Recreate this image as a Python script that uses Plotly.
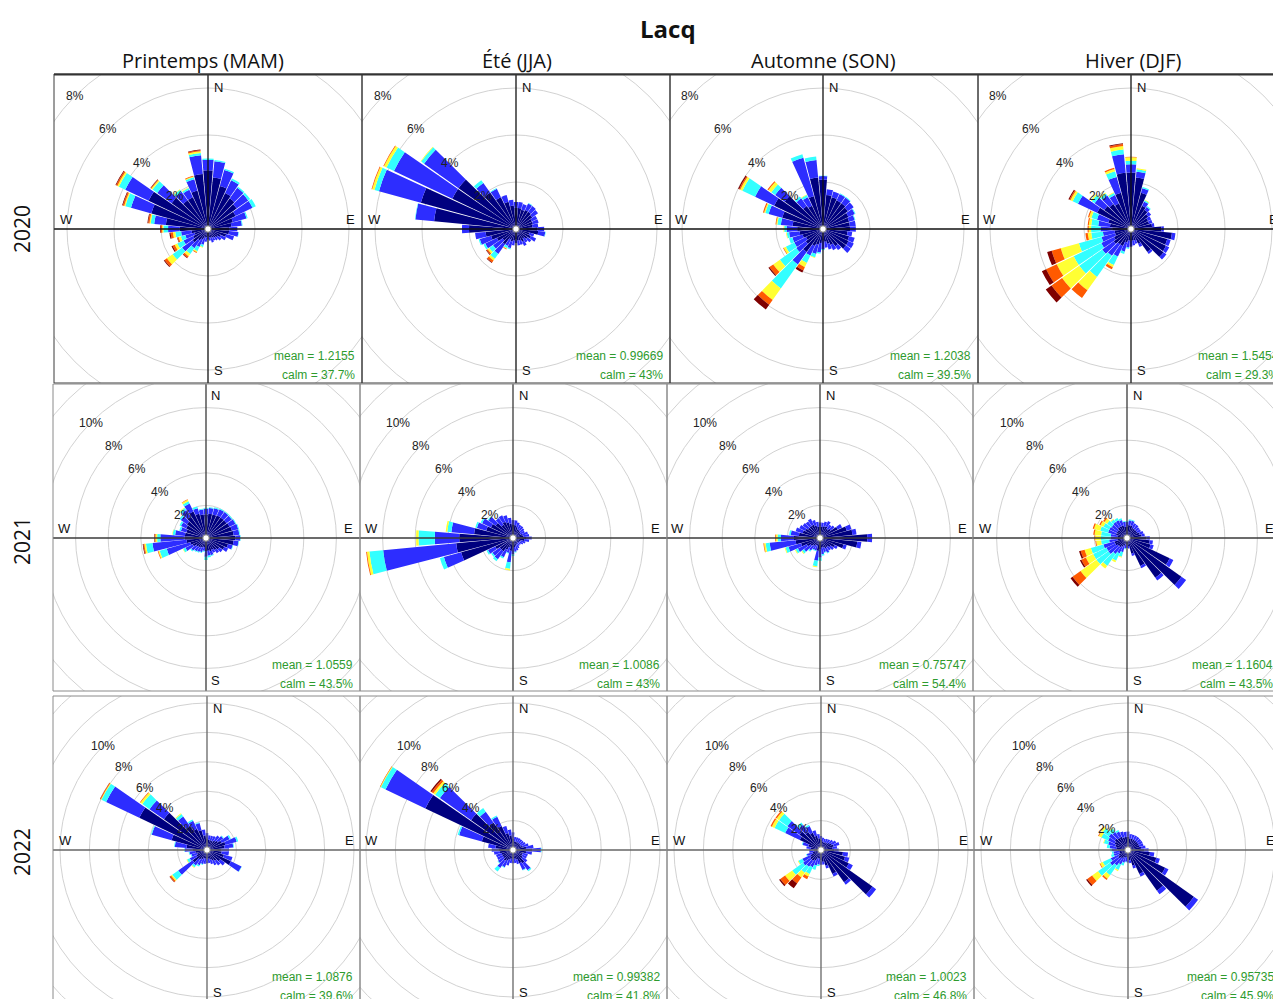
import plotly.graph_objects as go

# ---------------------------------------------------------------------------
# Data: wind roses for Lacq, frequency (%) per 10-degree sector, stacked by
# wind-speed class (innermost class first).
# ---------------------------------------------------------------------------
DIRECTIONS = list(range(10, 361, 10))
SPEED_CLASSES = ["classe 1", "classe 2", "classe 3", "classe 4", "classe 5", "classe 6"]
SPEED_COLOURS = ["#00007F", "#2D2DFF", "#33FFFF", "#FFFF33", "#FF5A00", "#7F0000"]

SEASONS = ["Printemps (MAM)", "Été (JJA)", "Automne (SON)", "Hiver (DJF)"]
YEARS = ["2020", "2021", "2022"]

MEAN_SPEED = [
    ["1.2155", "0.99669", "1.2038", "1.5454"],
    ["1.0559", "1.0086", "0.75747", "1.1604"],
    ["1.0876", "0.99382", "1.0023", "0.95735"],
]
CALM_PCT = [
    ["37.7", "43", "39.5", "29.3"],
    ["43.5", "43", "54.4", "43.5"],
    ["39.6", "41.8", "46.8", "45.9"],
]

rose_2020_mam = [
    [2.2, 0.7, 0.05], [1.9, 0.7, 0.06], [1.7, 0.6, 0.08], [1.6, 0.55, 0.06],
    [1.5, 0.6, 0.1], [1.3, 0.8, 0.15], [1.1, 0.6, 0.05], [1.0, 0.45, 0.03],
    [0.9, 0.35], [0.9, 0.4, 0.02], [0.8, 0.35], [0.6, 0.25],
    [0.5, 0.2], [0.45, 0.15], [0.4, 0.15], [0.4, 0.2],
    [0.35, 0.15], [0.3, 0.15], [0.35, 0.2], [0.4, 0.3, 0.1, 0.03],
    [0.5, 0.35, 0.2, 0.05, 0.03], [0.6, 0.4, 0.3, 0.12, 0.08, 0.03],
    [0.8, 0.55, 0.5, 0.3, 0.12, 0.04], [0.7, 0.45, 0.3, 0.12, 0.1, 0.05],
    [0.6, 0.4, 0.2, 0.1, 0.05, 0.02], [0.7, 0.45, 0.25, 0.1, 0.1, 0.05],
    [1.2, 0.5, 0.2, 0.05, 0.06, 0.03], [1.8, 0.5, 0.15, 0.05, 0.06, 0.03],
    [2.5, 0.9, 0.25, 0.05, 0.06, 0.03], [2.8, 1.1, 0.3, 0.07, 0.06, 0.03],
    [1.9, 0.75, 0.25, 0.06, 0.03, 0.02], [1.5, 0.45, 0.1, 0.03],
    [1.5, 0.35, 0.08, 0.03], [1.7, 0.5, 0.08, 0.04, 0.03],
    [2.35, 0.8, 0.1, 0.07, 0.05, 0.03], [2.5, 0.45, 0.05],
]
rose_2020_jja = [
    [0.9, 0.25], [0.85, 0.25], [0.9, 0.3, 0.03], [0.9, 0.3],
    [0.85, 0.3], [0.75, 0.25], [0.75, 0.25], [0.7, 0.25],
    [0.9, 0.3], [0.95, 0.3, 0.02], [0.6, 0.2], [0.7, 0.25],
    [0.6, 0.2], [0.5, 0.2], [0.6, 0.2], [0.5, 0.2],
    [0.5, 0.2], [0.45, 0.15], [0.5, 0.2], [0.55, 0.3, 0.05],
    [0.5, 0.3, 0.1, 0.03, 0.03], [0.8, 0.5, 0.25, 0.1, 0.1, 0.03],
    [0.7, 0.5, 0.2, 0.08, 0.06, 0.03], [0.9, 0.55, 0.08],
    [1.1, 0.5, 0.05], [1.3, 0.45], [2.0, 0.3], [3.5, 0.8, 0.02],
    [4.2, 1.85, 0.2, 0.1, 0.03], [3.0, 2.75, 0.35, 0.12, 0.03],
    [3.0, 1.8, 0.15, 0.03], [1.9, 0.5, 0.15],
    [1.5, 0.4, 0.03], [1.2, 0.3], [1.0, 0.25], [0.9, 0.25],
]
rose_2020_son = [
    [1.45, 0.25], [1.4, 0.25], [1.35, 0.3, 0.03], [1.35, 0.3, 0.03],
    [1.3, 0.3], [1.2, 0.3, 0.03], [1.15, 0.25, 0.03], [1.15, 0.25],
    [1.15, 0.25], [1.05, 0.2], [1.15, 0.25], [1.2, 0.25],
    [1.2, 0.25], [0.9, 0.2], [0.75, 0.25], [0.65, 0.25],
    [0.55, 0.25], [0.5, 0.35, 0.05], [0.6, 0.4, 0.05], [0.7, 0.4, 0.15, 0.03],
    [0.8, 0.45, 0.35, 0.2, 0.15, 0.1], [1.2, 0.65, 1.25, 0.6, 0.25, 0.25],
    [0.9, 0.5, 0.85, 0.35, 0.2, 0.05], [0.8, 0.55, 0.4, 0.1, 0.03],
    [0.9, 0.45, 0.15], [1.0, 0.45, 0.1, 0.03], [1.1, 0.45, 0.1, 0.03],
    [1.3, 0.5, 0.15, 0.05, 0.03], [1.8, 0.6, 0.15, 0.05, 0.05],
    [2.3, 0.9, 0.6, 0.1, 0.05, 0.05], [2.0, 0.5, 0.2, 0.15, 0.05],
    [1.2, 0.4, 0.1], [1.1, 0.4, 0.1, 0.03], [1.45, 1.7, 0.15],
    [2.2, 0.75, 0.15], [2.1, 0.15, 0.02],
]
rose_2020_djf = [
    [2.2, 0.25, 0.1, 0.05], [1.6, 0.2, 0.05], [1.1, 0.2, 0.05, 0.03], [1.0, 0.15, 0.05],
    [0.9, 0.15], [0.8, 0.15], [0.8, 0.15], [0.9, 0.1],
    [1.3, 0.1], [1.75, 0.15], [1.6, 0.15], [1.65, 0.15],
    [1.7, 0.15], [1.2, 0.1], [0.7, 0.15], [0.5, 0.15],
    [0.5, 0.2], [0.5, 0.25], [0.5, 0.3, 0.05], [0.6, 0.4, 0.1],
    [0.8, 0.5, 0.4, 0.1, 0.1], [0.8, 0.6, 1.1, 0.7, 0.4],
    [0.9, 0.6, 1.2, 0.9, 0.55, 0.3], [0.8, 0.6, 1.3, 0.8, 0.5, 0.2],
    [0.7, 0.6, 1.0, 0.8, 0.4, 0.2], [0.7, 0.5, 0.5, 0.15, 0.1],
    [0.8, 0.5, 0.4, 0.1, 0.05], [0.9, 0.5, 0.3, 0.1, 0.05],
    [1.0, 0.5, 0.25, 0.1, 0.05], [1.6, 0.9, 0.25, 0.1, 0.05, 0.05],
    [1.4, 0.5, 0.15, 0.05], [1.3, 0.45, 0.1, 0.05],
    [1.2, 0.4, 0.1, 0.03], [1.6, 0.7, 0.25, 0.1, 0.05],
    [2.4, 0.8, 0.2, 0.15, 0.08, 0.04], [2.4, 0.35, 0.15, 0.15, 0.02],
]
rose_2021_mam = [
    [1.5, 0.35, 0.05], [1.5, 0.4, 0.05], [1.55, 0.4, 0.05], [1.55, 0.4, 0.05],
    [1.55, 0.4, 0.05], [1.6, 0.4, 0.05], [1.65, 0.4, 0.05], [1.7, 0.35, 0.05],
    [1.8, 0.3, 0.03], [1.7, 0.3, 0.03], [1.4, 0.3, 0.03], [1.25, 0.25],
    [1.0, 0.25], [0.9, 0.25], [0.8, 0.2], [0.85, 0.25, 0.05],
    [0.8, 0.3, 0.1], [0.8, 0.35, 0.2], [0.55, 0.25, 0.05], [0.6, 0.3, 0.05],
    [0.65, 0.3, 0.05], [0.7, 0.3, 0.05], [0.75, 0.35, 0.08], [0.9, 0.5, 0.15, 0.03],
    [1.0, 1.5, 0.45, 0.08, 0.04], [1.2, 2.1, 0.4, 0.1, 0.06, 0.04],
    [1.3, 1.5, 0.2, 0.1, 0.05, 0.03], [1.3, 0.6, 0.15, 0.03],
    [1.25, 0.35, 0.1], [1.35, 0.35, 0.1], [1.45, 0.45, 0.1], [1.6, 0.5, 0.15, 0.05],
    [1.8, 0.55, 0.15, 0.1, 0.03], [1.55, 0.35, 0.1], [1.45, 0.3, 0.05], [1.45, 0.35, 0.05],
]
rose_2021_jja = [
    [0.8, 0.3], [0.7, 0.3], [0.6, 0.3], [0.6, 0.3],
    [0.55, 0.3], [0.5, 0.3], [0.6, 0.35], [0.65, 0.35],
    [0.8, 0.35], [0.7, 0.3], [0.5, 0.3], [0.45, 0.25],
    [0.4, 0.2], [0.4, 0.2], [0.45, 0.25], [0.5, 0.3],
    [0.55, 0.3, 0.05], [0.6, 0.4, 0.1], [0.8, 0.7, 0.4, 0.1], [0.6, 0.35, 0.05],
    [0.8, 0.5, 0.1], [1.0, 0.6, 0.15], [1.0, 0.55, 0.1], [1.2, 0.5, 0.1],
    [3.3, 1.1, 0.25], [3.5, 4.5, 0.85, 0.15, 0.05], [3.3, 1.5, 1.0, 0.15],
    [2.4, 1.4, 0.25, 0.1], [1.7, 0.6, 0.1], [1.5, 0.6, 0.1], [1.3, 0.55, 0.05],
    [1.0, 0.5], [1.1, 0.45], [1.0, 0.45], [0.9, 0.35], [0.8, 0.3],
]
rose_2021_son = [
    [0.7, 0.25], [0.75, 0.3], [0.8, 0.35], [0.7, 0.3],
    [0.8, 0.3], [1.2, 0.3], [1.7, 0.3], [2.0, 0.25],
    [2.9, 0.3], [2.3, 0.25], [1.5, 0.2], [1.0, 0.2],
    [0.8, 0.25], [0.7, 0.25], [0.7, 0.3, 0.05], [0.6, 0.3, 0.05],
    [0.6, 0.4, 0.1], [0.7, 0.5, 0.2], [0.8, 0.6, 0.35, 0.05], [0.5, 0.3, 0.05],
    [0.5, 0.3, 0.05], [0.6, 0.35, 0.08], [0.7, 0.5, 0.15, 0.05], [0.9, 0.6, 0.15, 0.05],
    [1.2, 0.8, 0.2, 0.05], [1.5, 1.6, 0.25, 0.1, 0.04], [1.6, 0.8, 0.2, 0.1, 0.05],
    [1.3, 0.5, 0.1], [1.1, 0.45], [1.0, 0.4], [0.9, 0.4], [0.9, 0.35],
    [0.9, 0.4], [0.8, 0.35], [0.7, 0.3], [0.7, 0.25],
]
rose_2021_djf = [
    [0.8, 0.3, 0.05], [0.8, 0.3, 0.05], [0.7, 0.3], [0.7, 0.3],
    [0.7, 0.25], [0.7, 0.25], [0.8, 0.25], [0.9, 0.2],
    [1.2, 0.2], [1.4, 0.2], [1.5, 0.2], [2.9, 0.25],
    [4.1, 0.35], [3.0, 0.2], [1.9, 0.15], [1.0, 0.15],
    [0.5, 0.15], [0.4, 0.2], [0.4, 0.25, 0.05], [0.5, 0.4, 0.3, 0.05],
    [0.6, 0.45, 0.5, 0.1], [0.7, 0.5, 0.9, 0.2],
    [0.7, 0.7, 0.9, 1.2, 0.6, 0.15], [0.8, 0.6, 0.9, 0.5, 0.3, 0.1],
    [0.8, 0.7, 0.8, 0.4, 0.25, 0.1], [0.6, 0.5, 0.5, 0.3, 0.05],
    [0.6, 0.4, 0.6, 0.35, 0.05], [0.6, 0.4, 0.6, 0.4, 0.08],
    [0.7, 0.5, 0.5, 0.4, 0.08], [0.7, 0.5, 0.4, 0.2, 0.08],
    [0.7, 0.45, 0.35, 0.2, 0.1], [0.8, 0.4, 0.2, 0.05],
    [0.8, 0.4, 0.15], [0.8, 0.35, 0.1], [0.7, 0.3, 0.05], [0.7, 0.3, 0.05],
]
rose_2022_mam = [
    [0.7, 0.3], [0.7, 0.3], [0.7, 0.35], [0.8, 0.4],
    [0.9, 0.45, 0.05], [1.1, 0.6, 0.1], [1.3, 0.8, 0.1], [1.2, 0.6, 0.05],
    [1.0, 0.5], [1.0, 0.5], [1.2, 0.6], [1.8, 0.8, 0.03],
    [1.1, 0.4], [0.9, 0.4], [0.8, 0.35], [0.7, 0.3],
    [0.6, 0.3], [0.6, 0.3], [0.6, 0.35], [0.6, 0.4, 0.05],
    [0.7, 0.45, 0.1], [0.8, 0.5, 0.15, 0.05], [1.2, 1.2, 0.5, 0.1, 0.1, 0.03],
    [0.8, 0.5, 0.2, 0.05], [0.7, 0.4, 0.05], [0.8, 0.4, 0.05], [1.0, 0.5, 0.05],
    [1.4, 0.8, 0.05], [2.5, 1.4, 0.05], [5.1, 2.5, 0.35, 0.05, 0.05, 0.02],
    [3.6, 1.2, 0.6, 0.15, 0.05], [2.0, 0.8, 0.2, 0.06], [1.6, 0.6, 0.1],
    [1.4, 0.5, 0.05], [1.0, 0.4], [0.8, 0.35],
]
rose_2022_jja = [
    [0.6, 0.3], [0.6, 0.3], [0.6, 0.3], [0.6, 0.3],
    [0.6, 0.3], [0.6, 0.35], [0.7, 0.4], [0.9, 0.5],
    [1.3, 0.6, 0.05], [0.9, 0.4], [0.7, 0.35], [0.7, 0.35],
    [0.8, 0.4], [1.1, 0.6, 0.08], [1.0, 0.5, 0.05], [0.7, 0.3],
    [0.6, 0.3], [0.6, 0.3], [0.6, 0.3], [0.7, 0.4],
    [0.8, 0.5, 0.05], [0.9, 0.6, 0.3], [0.8, 0.45, 0.05], [0.8, 0.4],
    [0.8, 0.4], [0.9, 0.4], [1.0, 0.45], [1.2, 0.5],
    [2.2, 1.6, 0.1], [6.6, 3.0, 0.35, 0.05, 0.03], [3.5, 2.6, 0.4, 0.15, 0.15, 0.1],
    [2.3, 0.9, 0.3], [1.8, 0.7, 0.1], [1.2, 0.5], [1.0, 0.4], [0.8, 0.4],
]
rose_2022_son = [
    [0.6, 0.25], [0.55, 0.25], [0.6, 0.25], [0.6, 0.3],
    [0.7, 0.3], [0.8, 0.35], [0.9, 0.4], [0.8, 0.3],
    [0.9, 0.3], [1.5, 0.35], [1.7, 0.3], [2.1, 0.3],
    [4.3, 0.3], [2.7, 0.2], [1.8, 0.2], [1.1, 0.2],
    [0.8, 0.2], [0.7, 0.3], [0.6, 0.4, 0.1], [0.6, 0.5, 0.3],
    [0.8, 0.5, 0.5, 0.2, 0.2], [0.9, 0.5, 0.5, 0.4, 0.5, 0.4],
    [0.9, 0.6, 0.9, 0.6, 0.4, 0.1], [0.8, 0.6, 0.3, 0.05],
    [0.6, 0.4, 0.05], [0.5, 0.3], [0.5, 0.3], [0.7, 0.3],
    [0.9, 0.4, 0.05], [1.6, 1.1, 0.8, 0.2, 0.1], [1.8, 1.0, 0.7, 0.2, 0.1],
    [1.5, 0.6, 0.2], [1.3, 0.5, 0.1], [1.0, 0.4], [0.8, 0.3], [0.7, 0.25],
]
rose_2022_djf = [
    [0.8, 0.3], [0.8, 0.3], [0.8, 0.3], [0.8, 0.3],
    [0.8, 0.3], [0.8, 0.3], [0.8, 0.3], [0.9, 0.3],
    [1.1, 0.3], [1.5, 0.3], [2.0, 0.25], [2.8, 0.25],
    [5.5, 0.35], [3.4, 0.3], [1.8, 0.2], [1.1, 0.2],
    [0.7, 0.2], [0.6, 0.25], [0.5, 0.3, 0.05], [0.5, 0.4, 0.2],
    [0.6, 0.5, 0.4, 0.1], [0.7, 0.6, 0.8, 0.3, 0.1],
    [0.8, 0.7, 1.0, 0.5, 0.4, 0.1], [0.7, 0.6, 0.6, 0.2, 0.05],
    [0.6, 0.4, 0.2], [0.6, 0.4, 0.1], [0.7, 0.4, 0.1], [0.8, 0.45, 0.2],
    [0.9, 0.5, 0.3, 0.05], [1.0, 0.5, 0.5, 0.2, 0.05], [1.1, 0.5, 0.5, 0.15, 0.05],
    [1.0, 0.5, 0.3, 0.05], [1.0, 0.4, 0.1], [0.9, 0.4], [0.9, 0.35], [0.9, 0.35],
]

ROSES = [
    [rose_2020_mam, rose_2020_jja, rose_2020_son, rose_2020_djf],
    [rose_2021_mam, rose_2021_jja, rose_2021_son, rose_2021_djf],
    [rose_2022_mam, rose_2022_jja, rose_2022_son, rose_2022_djf],
]

# ---------------------------------------------------------------------------
# Page geometry (pixels) of the panel grid
# ---------------------------------------------------------------------------
FIG_W, FIG_H = 1273, 999
ROW_Y = [(74, 383, 229), (384, 691, 538), (696, 1004, 850)]  # top, bottom, centre
COL_X = [
    [(54, 362, 208), (362, 670, 516), (670, 978, 823), (978, 1286, 1131)],
    [(53, 360, 206), (360, 667, 513), (667, 973, 820), (973, 1280, 1127)],
    [(53, 360, 207), (360, 667, 513), (667, 974, 821), (974, 1281, 1128)],
]
PX_PER_PCT = [23.5, 16.3, 14.7]
RING_MAX = [10, 14, 14]
LABEL_MAX = [8, 10, 10]
CROSS_COLOUR = ["#111111", "#3a3a3a", "#666666"]
FRAME_COLOUR = ["#3a3a3a", "#8a8a8a", "#8a8a8a"]
GREEN = "#2e9b2e"
PANEL_FONT = "Liberation Sans, Arial, sans-serif"
TITLE_FONT = "Open Sans, Noto Sans, sans-serif"


def fx(x):
    return x / FIG_W


def fy(y):
    return 1 - y / FIG_H


fig = go.Figure()
layout = dict(
    width=FIG_W, height=FIG_H, autosize=False,
    margin=dict(l=0, r=0, t=0, b=0),
    paper_bgcolor="white", plot_bgcolor="rgba(0,0,0,0)",
    template="none", showlegend=False,
)
shapes = []
annotations = []

for r in range(3):
    y0, y1, cy = ROW_Y[r]
    s = PX_PER_PCT[r]
    for c in range(4):
        x0, x1, cx = COL_X[r][c]
        idx = r * 4 + c + 1
        sfx = "" if idx == 1 else str(idx)
        xr, yr = f"x{sfx}", f"y{sfx}"
        xe, ye = min(x1, FIG_W), min(y1, FIG_H)

        # hidden cartesian frame in % units, used for the rings and the cross
        layout[f"xaxis{sfx}"] = dict(
            domain=[fx(x0), fx(xe)], range=[(x0 - cx) / s, (xe - cx) / s],
            showgrid=False, zeroline=False, showticklabels=False, ticks="",
            showline=False, fixedrange=True, anchor=yr,
        )
        layout[f"yaxis{sfx}"] = dict(
            domain=[fy(ye), fy(y0)], range=[(cy - ye) / s, (cy - y0) / s],
            showgrid=False, zeroline=False, showticklabels=False, ticks="",
            showline=False, fixedrange=True, anchor=xr,
        )

        # polar subplot holding the stacked bars
        R = min(cx - x0, xe - cx, cy - y0, ye - cy) - 1
        layout[f"polar{sfx}"] = dict(
            domain=dict(x=[fx(cx - R), fx(cx + R)], y=[fy(cy + R), fy(cy - R)]),
            bgcolor="rgba(0,0,0,0)", barmode="stack", hole=0,
            angularaxis=dict(rotation=90, direction="clockwise", showgrid=False,
                             showline=False, showticklabels=False, ticks=""),
            radialaxis=dict(range=[0, R / s], visible=False),
        )
        rose = ROSES[r][c]
        for k in range(len(SPEED_CLASSES)):
            fig.add_trace(go.Barpolar(
                r=[row[k] if k < len(row) else 0 for row in rose],
                theta=DIRECTIONS, width=[9.2] * len(DIRECTIONS),
                marker=dict(color=SPEED_COLOURS[k], line=dict(width=0)),
                name=SPEED_CLASSES[k], subplot=f"polar{sfx}",
                showlegend=False,
            ))

        # frequency rings
        for p in range(2, RING_MAX[r] + 1, 2):
            shapes.append(dict(type="circle", xref=xr, yref=yr, x0=-p, x1=p, y0=-p, y1=p,
                               line=dict(color="#d2d2d2", width=1), layer="below"))
        # compass cross
        big = 20
        shapes.append(dict(type="line", xref=xr, yref=yr, x0=-big, x1=big, y0=0, y1=0,
                           line=dict(color=CROSS_COLOUR[r], width=1.3), layer="above"))
        shapes.append(dict(type="line", xref=xr, yref=yr, x0=0, x1=0, y0=-big, y1=big,
                           line=dict(color=CROSS_COLOUR[r], width=1.3), layer="above"))
        d = 3.2 / s
        shapes.append(dict(type="circle", xref=xr, yref=yr, x0=-d, x1=d, y0=-d, y1=d,
                           fillcolor="white", line=dict(color="#888888", width=1), layer="above"))
        # panel frame
        shapes.append(dict(type="rect", xref="paper", yref="paper",
                           x0=fx(x0), x1=fx(x1), y0=fy(y1), y1=fy(y0),
                           line=dict(color=FRAME_COLOUR[r], width=1),
                           fillcolor="rgba(0,0,0,0)", layer="above"))

        # compass letters
        for txt, dx, dy in (("N", 10, -142), ("E", 142, -10), ("W", -142, -10), ("S", 10, 142)):
            annotations.append(dict(text=txt, xref="paper", yref="paper",
                                    x=fx(cx + dx), y=fy(cy + dy), showarrow=False,
                                    xanchor="center", yanchor="middle",
                                    font=dict(family=PANEL_FONT, size=13, color="#111111")))
        # ring labels along the north-west diagonal
        for p in range(2, LABEL_MAX[r] + 1, 2):
            off = p * s / 2 ** 0.5
            annotations.append(dict(text=f"{p}%", xref="paper", yref="paper",
                                    x=fx(cx - off), y=fy(cy - off), showarrow=False,
                                    xanchor="center", yanchor="middle",
                                    font=dict(family=PANEL_FONT, size=12, color="#222222")))
        # statistics
        annotations.append(dict(text=f"mean = {MEAN_SPEED[r][c]}", xref="paper", yref="paper",
                                x=fx(x1 - 5), y=fy(cy + 127), showarrow=False,
                                xanchor="right", yanchor="middle",
                                font=dict(family=PANEL_FONT, size=12, color=GREEN)))
        annotations.append(dict(text=f"calm = {CALM_PCT[r][c]}%", xref="paper", yref="paper",
                                x=fx(x1 - 5), y=fy(cy + 146), showarrow=False,
                                xanchor="right", yanchor="middle",
                                font=dict(family=PANEL_FONT, size=12, color=GREEN)))

# heavier rule along the top of the grid
shapes.append(dict(type="line", xref="paper", yref="paper", x0=fx(54), x1=1.0,
                   y0=fy(74.5), y1=fy(74.5), line=dict(color="#333333", width=2), layer="above"))

# titles
annotations.append(dict(text="<b>Lacq</b>", xref="paper", yref="paper", x=fx(668), y=fy(28),
                        showarrow=False, xanchor="center", yanchor="middle",
                        font=dict(family=TITLE_FONT, size=24, color="#111111")))
for c, (season, xc) in enumerate(zip(SEASONS, [203, 517, 823, 1133])):
    annotations.append(dict(text=season, xref="paper", yref="paper", x=fx(xc), y=fy(61),
                            showarrow=False, xanchor="center", yanchor="middle",
                            font=dict(family=TITLE_FONT, size=20, color="#111111")))
for year, yc in zip(YEARS, [229, 541, 852]):
    annotations.append(dict(text=year, xref="paper", yref="paper", x=fx(22), y=fy(yc),
                            showarrow=False, xanchor="center", yanchor="middle", textangle=-90,
                            font=dict(family=TITLE_FONT, size=21, color="#111111")))

layout["shapes"] = shapes
layout["annotations"] = annotations
fig.update_layout(**layout)
fig.write_html("out.html")
